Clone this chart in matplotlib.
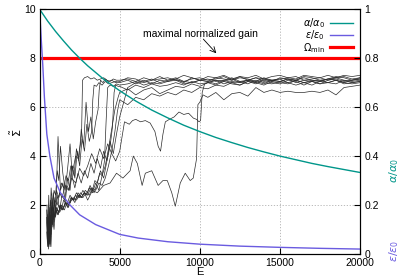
import numpy as np
import matplotlib
matplotlib.use("Agg")
import matplotlib.pyplot as plt

plt.rcParams['font.family'] = ['Liberation Sans', 'DejaVu Sans']
plt.rcParams['mathtext.fontset'] = 'dejavusans'

# normalized gain alpha/alpha0
alpha_e = [0, 500, 1000, 1500, 2000, 2500, 3000, 4000, 5000, 6000, 7000, 8000, 9000,
           10000, 11000, 12000, 13000, 14000, 15000, 16000, 17000, 18000, 19000, 20000]
alpha_v = [1.0, 0.952, 0.909, 0.870, 0.833, 0.800, 0.769, 0.714, 0.667, 0.625, 0.588, 0.556, 0.526,
           0.500, 0.476, 0.455, 0.435, 0.417, 0.400, 0.385, 0.370, 0.357, 0.345, 0.333]

# eps/eps0
eps_e = [0, 100, 200, 300, 450, 640, 900, 1300, 1900, 2500, 3500, 5000, 6150, 8000,
         10000, 12500, 15000, 17500, 20000]
eps_v = [1.0, 0.88, 0.77, 0.64, 0.49, 0.40, 0.31, 0.25, 0.20, 0.16, 0.12, 0.08, 0.065, 0.05,
         0.04, 0.032, 0.027, 0.023, 0.02]

omega_min = 8.0

# plateau grid
tail_e = [5000, 5500, 6000, 6500, 7000, 7500, 8000, 8500, 9000, 9500, 10000, 10500, 11000,
          11500, 12000, 12500, 13000, 13500, 14000, 14500, 15000, 15500, 16000, 16500,
          17000, 17500, 18000, 18500, 19000, 19500, 20000]

t1_e = [430, 480, 530, 600, 680, 760, 850, 950, 1050, 1200, 1350, 1500, 1650, 1800, 1950, 2100,
        2250, 2400, 2550, 2620, 2680, 2800, 3000, 3200, 3400, 3600, 3800, 4000, 4200, 4400, 4600, 4800]
t1_v = [1.5, 0.6, 1.8, 1.0, 2.2, 1.7, 2.5, 2.0, 2.6, 2.3, 2.9, 2.7, 3.2, 3.0, 3.6, 3.5,
        4.0, 3.9, 4.5, 4.9, 7.1, 7.2, 7.25, 7.15, 7.2, 7.1, 7.15, 7.2, 7.1, 7.05, 7.15, 7.1]
t1_tail = [7.1, 7.15, 7.05, 7.2, 7.1, 7.15, 7.2, 7.1, 7.05, 7.15, 7.2, 7.1, 7.15, 7.25, 7.1, 7.2,
           7.15, 7.05, 7.2, 7.1, 7.15, 7.2, 7.25, 7.1, 7.15, 7.2, 7.1, 7.2, 7.25, 7.15, 7.2]

t2_e = [450, 500, 560, 620, 700, 800, 900, 1000, 1150, 1300, 1450, 1600, 1750, 1900, 2050, 2200,
        2350, 2500, 2650, 2800, 2950, 3100, 3250, 3320, 3400, 3550, 3700, 3900, 4100, 4300, 4500, 4750]
t2_v = [0.9, 0.3, 1.4, 0.5, 1.9, 1.2, 2.3, 1.6, 4.8, 2.6, 2.9, 2.1, 3.1, 2.6, 3.6, 3.1,
        4.2, 3.6, 4.7, 4.2, 5.3, 4.6, 5.0, 6.3, 6.9, 6.85, 7.0, 6.9, 7.05, 6.95, 7.0, 7.05]
t2_tail = [7.0, 7.1, 6.95, 7.05, 7.15, 7.0, 7.1, 7.2, 7.05, 7.0, 7.1, 7.15, 7.05, 7.1, 7.2, 7.05,
           7.1, 7.0, 7.15, 7.1, 7.05, 7.15, 7.1, 7.0, 7.1, 7.05, 7.15, 7.2, 7.1, 7.0, 7.05]

t3_e = [500, 550, 620, 700, 780, 880, 1000, 1100, 1250, 1400, 1550, 1700, 1850, 2000, 2150, 2300,
        2450, 2600, 2750, 2900, 3050, 3200, 3350, 3500, 3650, 3720, 3800, 3950, 4100, 4300, 4500, 4750]
t3_v = [1.1, 0.2, 1.7, 0.7, 2.1, 1.4, 1.9, 2.4, 1.8, 2.4, 2.2, 2.8, 2.6, 3.6, 3.2, 4.3,
        3.8, 5.1, 4.4, 6.2, 5.0, 5.6, 4.7, 5.4, 5.9, 6.7, 7.1, 7.0, 7.15, 7.05, 7.1, 7.0]
t3_tail = [7.05, 7.2, 7.15, 7.0, 7.1, 7.25, 7.1, 7.15, 7.3, 7.2, 7.1, 7.25, 7.2, 7.3, 7.15, 7.25,
           7.2, 7.3, 7.15, 7.25, 7.3, 7.2, 7.15, 7.3, 7.25, 7.2, 7.3, 7.2, 7.3, 7.25, 7.3]

t4_e = [470, 520, 580, 650, 730, 820, 920, 1050, 1200, 1350, 1500, 1650, 1800, 1950, 2100, 2250,
        2400, 2550, 2700, 2850, 3000, 3150, 3300, 3450, 3600, 3750, 3900, 4050, 4150, 4250, 4400,
        4600, 4800]
t4_v = [1.3, 0.5, 1.0, 0.3, 1.6, 2.0, 1.5, 1.9, 1.7, 2.0, 1.9, 2.1, 2.0, 2.3, 2.2, 2.4,
        2.3, 2.5, 2.4, 2.6, 2.5, 2.8, 2.6, 3.0, 2.9, 3.3, 3.2, 3.8, 5.4, 6.8, 6.9,
        6.85, 6.95]
t4_tail = [6.9, 6.95, 7.05, 6.9, 7.0, 6.95, 7.05, 7.1, 6.95, 7.0, 7.1, 7.05, 6.95, 7.1, 7.0, 7.05,
           6.95, 7.1, 7.0, 6.95, 7.05, 7.0, 6.9, 7.0, 7.05, 6.95, 7.0, 7.1, 7.0, 6.95, 7.0]

t5_e = [440, 490, 550, 610, 690, 780, 880, 980, 1100, 1250, 1400, 1550, 1700, 1850, 2000, 2200,
        2400, 2600, 2800, 3000, 3200, 3400, 3600, 3800, 4000, 4200, 4400, 4550, 4650, 4750, 4900]
t5_v = [1.8, 0.7, 1.3, 0.4, 1.6, 1.2, 1.9, 1.5, 1.8, 1.7, 1.9, 1.8, 2.1, 2.0, 2.3, 2.2,
        2.4, 2.3, 2.5, 2.4, 2.7, 2.5, 2.9, 3.4, 3.1, 3.8, 4.4, 5.2, 6.6, 6.9, 6.85]
t5_tail = [6.85, 6.7, 6.9, 6.8, 6.95, 6.85, 6.9, 7.0, 6.9, 7.05, 6.95, 7.0, 7.1, 6.95, 7.05, 7.0,
           7.1, 7.05, 6.95, 7.1, 7.05, 7.15, 7.0, 7.1, 7.05, 6.95, 7.1, 7.15, 7.05, 7.1, 7.15]

t6_e = [520, 570, 640, 720, 800, 900, 1000, 1150, 1300, 1450, 1600, 1750, 1900, 2100, 2300, 2500,
        2700, 2900, 3100, 3300, 3500, 3700, 3900, 4100, 4300, 4500, 4700, 4850]
t6_v = [1.0, 0.3, 1.5, 0.8, 2.0, 1.3, 1.8, 1.6, 2.0, 1.8, 2.1, 1.9, 2.1, 2.3, 2.2, 2.4,
        2.3, 2.5, 2.4, 2.7, 2.6, 2.9, 2.8, 3.1, 3.6, 4.2, 5.0, 5.8]
t6_tail = [6.3, 6.1, 6.4, 6.3, 6.55, 6.45, 6.6, 6.5, 6.7, 6.6, 6.8, 6.75, 6.9, 6.85, 7.0, 6.9,
           7.05, 6.95, 7.1, 7.0, 6.95, 7.1, 7.05, 6.9, 7.05, 7.1, 7.0, 6.95, 7.1, 7.05, 7.1]

t7_e = [460, 510, 570, 640, 720, 810, 900, 1000, 1100, 1200, 1300, 1450, 1600, 1750, 1900, 2050,
        2200, 2400, 2600, 2800, 3000, 3200, 3400, 3600, 3800, 4000, 4200, 4400, 4600, 4800]
t7_v = [2.0, 0.8, 2.4, 1.1, 2.7, 1.9, 2.6, 2.4, 3.4, 3.0, 4.4, 3.3, 2.6, 3.5, 4.5, 3.1,
        2.7, 3.3, 2.9, 3.4, 3.1, 3.7, 3.3, 3.9, 3.5, 4.2, 3.8, 4.6, 4.1, 4.9]
t7_tail = [5.6, 6.8, 7.0, 7.1, 6.95, 7.1, 7.05, 7.15, 7.0, 7.2, 7.1, 7.05, 7.2, 7.15, 7.1, 7.25,
           7.1, 7.2, 7.15, 7.05, 7.2, 7.15, 7.1, 7.25, 7.2, 7.1, 7.15, 7.25, 7.2, 7.1, 7.2]

t8_e = [480, 530, 600, 680, 760, 850, 950, 1100, 1250, 1400, 1600, 1800, 2000, 2250, 2500, 2750,
        3000, 3250, 3500, 3750, 4000, 4250, 4500, 4750, 5000, 5300, 5600, 5800, 6000, 6300, 6600,
        6900, 7200, 7400, 7550, 7700, 7850, 8100, 8400, 8700, 9000, 9300, 9600, 9800, 9950,
        10050, 10150, 10300]
t8_v = [1.4, 0.4, 1.9, 1.1, 2.3, 1.6, 2.2, 2.0, 2.5, 2.3, 2.8, 2.6, 3.1, 2.9, 3.5, 3.2,
        3.6, 4.1, 3.7, 4.3, 3.9, 4.5, 4.1, 3.8, 4.2, 5.4, 5.3, 5.45, 5.5, 5.4, 5.45,
        5.35, 5.0, 4.4, 4.2, 4.9, 5.4, 5.5, 5.6, 5.8, 5.7, 5.75, 5.55, 5.5, 5.4,
        5.45, 6.6, 6.95]
t8_tail = [7.0, 7.1, 7.05, 7.15, 7.0, 7.1, 7.2, 7.05, 7.1, 7.15, 7.0, 7.1, 7.2, 7.1, 7.05, 7.15,
           7.1, 7.0, 7.1, 7.15]

t9_e = [500, 560, 630, 710, 800, 900, 1000, 1150, 1300, 1450, 1600, 1800, 2000, 2200, 2400, 2600,
        2800, 3000, 3300, 3600, 4000, 4400, 4800, 5200, 5650, 5850, 6100, 6400, 6600, 7000, 7400,
        7700, 7970, 8250, 8470, 8780, 9090, 9400, 9590, 9800, 9880, 10000, 10200]
t9_v = [1.6, 0.5, 1.2, 0.3, 1.7, 1.0, 1.9, 1.6, 2.0, 1.8, 2.1, 1.9, 2.3, 2.1, 2.5, 2.3,
        2.5, 2.2, 2.6, 2.5, 2.8, 2.9, 3.3, 3.1, 3.4, 4.0, 3.7, 2.8, 3.3, 3.4, 2.8,
        3.0, 3.0, 2.5, 1.95, 2.9, 3.3, 3.0, 3.1, 3.9, 6.1, 6.2, 6.5]
t9_tail = [6.4, 6.6, 6.3, 6.55, 6.6, 6.45, 6.8, 6.6, 6.7, 6.6, 6.65, 6.6, 6.6, 6.65, 6.6, 6.7,
           6.5, 6.8, 6.85, 6.9]

t10_e = [540, 590, 660, 740, 830, 930, 1050, 1200, 1350, 1500, 1700, 1900, 2100, 2300, 2500, 2700,
         2900, 3100, 3300, 3500, 3700, 3900, 4100, 4300, 4500, 4700, 4900]
t10_v = [0.7, 1.5, 0.4, 1.8, 1.1, 2.1, 1.7, 2.0, 1.8, 2.2, 2.0, 2.4, 2.2, 2.5, 2.3, 2.6,
         2.4, 2.7, 2.5, 2.9, 2.6, 3.2, 3.6, 4.3, 5.1, 5.9, 6.4]
t10_tail = [6.6, 6.75, 6.5, 6.7, 6.8, 6.55, 6.7, 6.85, 6.8, 6.95, 6.85, 7.0, 6.9, 7.05, 6.95, 6.9,
            7.05, 7.0, 6.9, 7.05, 7.0, 6.95, 7.1, 7.0, 6.9, 7.05, 7.0, 7.1, 6.95, 7.0, 7.05]

traces = [(t1_e, t1_v, t1_tail), (t2_e, t2_v, t2_tail), (t3_e, t3_v, t3_tail),
          (t4_e, t4_v, t4_tail), (t5_e, t5_v, t5_tail), (t6_e, t6_v, t6_tail),
          (t7_e, t7_v, t7_tail), (t8_e, t8_v, t8_tail), (t9_e, t9_v, t9_tail),
          (t10_e, t10_v, t10_tail)]

TEAL = '#00968a'
PURPLE = '#6a5be0'

fig = plt.figure(figsize=(4.0, 2.8), dpi=100)
ax = fig.add_axes([0.099, 0.093, 0.801, 0.874])
ax2 = ax.twinx()

for he, hv, tv in traces:
    te = tail_e[-len(tv):]
    ax.plot(list(he) + list(te), list(hv) + list(tv), color='#2a2a2a', lw=0.5)

red, = ax.plot([0, 20000], [omega_min, omega_min], color='#ff0000', lw=2.3, zorder=5)

l_a, = ax2.plot(alpha_e, alpha_v, color=TEAL, lw=1.0)
l_e, = ax2.plot(eps_e, eps_v, color=PURPLE, lw=1.0)

ax.set_xlim(0, 20000)
ax.set_ylim(0, 10)
ax2.set_ylim(0, 1)
ax.set_xticks([0, 5000, 10000, 15000, 20000])
ax.set_yticks([0, 2, 4, 6, 8, 10])
ax2.set_yticks([0, 0.2, 0.4, 0.6, 0.8, 1])
ax2.set_yticklabels(['0', '0.2', '0.4', '0.6', '0.8', '1'])

ax.grid(True, color='#b0b0b0', ls=(0, (1.5, 2)), lw=0.6)
ax.tick_params(direction='in', length=4, labelsize=7.5, top=False, right=False, pad=3)
ax2.tick_params(direction='in', length=4, labelsize=7.5, pad=3)

ax.set_xlabel('E', fontsize=8, labelpad=-1)
fig.text(0.04, 0.525, r'$\tilde{\Sigma}$', rotation=90, fontsize=8, ha='center', va='center')
fig.text(0.985, 0.39, r'$\alpha/\alpha_0$', rotation=90, color=TEAL, fontsize=8,
         ha='center', va='center')
fig.text(0.985, 0.105, r'$\varepsilon/\varepsilon_0$', rotation=90, color=PURPLE, fontsize=8,
         ha='center', va='center')

# label and its arrow pointing at the red line
ax.text(10030, 9.0, 'maximal normalized gain', fontsize=7.5, ha='center', va='center', zorder=6)
ax.annotate('', xy=(11030, 8.2), xytext=(10220, 8.78), zorder=6,
            arrowprops=dict(arrowstyle='->', lw=0.6, color='black', shrinkA=0, shrinkB=0))

leg = ax2.legend([l_a, l_e, red], [r'$\alpha/\alpha_0$', r'$\varepsilon/\varepsilon_0$',
                                  r'$\Omega_{\min}$'],
                 loc='upper right', bbox_to_anchor=(1.0, 1.0), fontsize=7,
                 frameon=False, markerfirst=False, handlelength=2.4,
                 labelspacing=-0.15, handletextpad=0.5, borderaxespad=0.3)
for t in leg.get_texts():
    t.set_ha('right')

fig.savefig('out.png', dpi=100)
